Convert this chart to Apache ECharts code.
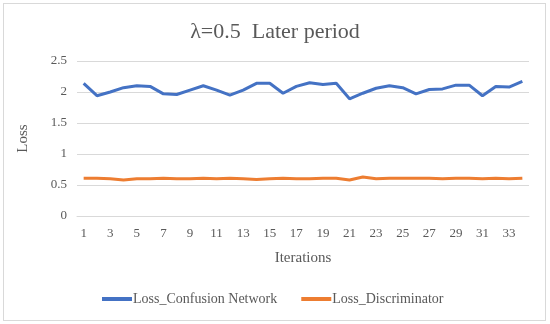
<!DOCTYPE html>
<html>
<head>
<meta charset="utf-8">
<script src="https://cdn.jsdelivr.net/npm/echarts@6/dist/echarts.min.js"></script>
<style>
html,body{margin:0;padding:0;background:#fff;}
#frame{position:absolute;left:3px;top:3px;width:541px;height:316px;border:1px solid #d9d9d9;}
#c{position:absolute;left:0;top:0;width:550px;height:324px;}
</style>
</head>
<body>
<div id="frame"></div>
<div id="c"></div>
<script>
const categories = [];
for (let i = 1; i <= 34; i++) categories.push(String(i));
const lossConfusion = [2.14,1.94,2.00,2.07,2.10,2.09,1.97,1.96,2.03,2.10,2.03,1.95,2.03,2.14,2.14,1.98,2.09,2.15,2.12,2.14,1.89,1.98,2.06,2.10,2.07,1.97,2.04,2.05,2.11,2.11,1.94,2.09,2.08,2.17];
const lossDiscriminator = [0.61,0.61,0.60,0.58,0.60,0.60,0.61,0.60,0.60,0.61,0.60,0.61,0.60,0.59,0.60,0.61,0.60,0.60,0.61,0.61,0.58,0.63,0.60,0.61,0.61,0.61,0.61,0.60,0.61,0.61,0.60,0.61,0.60,0.61];
const yTicks = ['0','0.5','1','1.5','2','2.5'];

const font = '"Liberation Serif", "Times New Roman", serif';
const chart = echarts.init(document.getElementById('c'));
chart.setOption({
  animation: false,
  title: {
    text: 'λ=0.5  Later period',
    left: 'center',
    top: 16,
    textStyle: {fontFamily: font, fontSize: 22, fontWeight: 'normal', color: '#595959'}
  },
  grid: {left: 77, right: 21, top: 61, bottom: 108, containLabel: false},
  legend: {
    bottom: 13,
    left: 97,
    itemWidth: 30,
    itemHeight: 4,
    itemGap: 24,
    icon: 'rect',
    textStyle: {fontFamily: font, fontSize: 14, color: '#595959', padding: [0,0,0,-4]},
    data: ['Loss_Confusion Network', 'Loss_Discriminator']
  },
  xAxis: {
    type: 'category',
    data: categories,
    boundaryGap: true,
    name: 'Iterations',
    nameLocation: 'middle',
    nameGap: 35,
    nameTextStyle: {fontFamily: font, fontSize: 15, color: '#595959'},
    axisLine: {lineStyle: {color: '#d9d9d9'}},
    axisTick: {show: false},
    axisLabel: {interval: 1, fontFamily: font, fontSize: 13, color: '#595959', margin: 11}
  },
  yAxis: {
    type: 'value',
    min: 0, max: 2.5, interval: 0.5,
    name: 'Loss',
    nameLocation: 'middle',
    nameGap: 46,
    nameRotate: 90,
    nameTextStyle: {fontFamily: font, fontSize: 15, color: '#595959'},
    axisLine: {show: false},
    axisTick: {show: false},
    splitLine: {lineStyle: {color: '#d9d9d9', width: 1}},
    axisLabel: {
      fontFamily: font, fontSize: 13, color: '#595959', margin: 10,
      formatter: function (v) { return yTicks[Math.round(v / 0.5)]; }
    }
  },
  series: [
    {name: 'Loss_Confusion Network', type: 'line', data: lossConfusion, symbol: 'none',
     lineStyle: {color: '#4472C4', width: 3}, itemStyle: {color: '#4472C4'}},
    {name: 'Loss_Discriminator', type: 'line', data: lossDiscriminator, symbol: 'none',
     lineStyle: {color: '#ED7D31', width: 3}, itemStyle: {color: '#ED7D31'}}
  ]
});
</script>
</body>
</html>
